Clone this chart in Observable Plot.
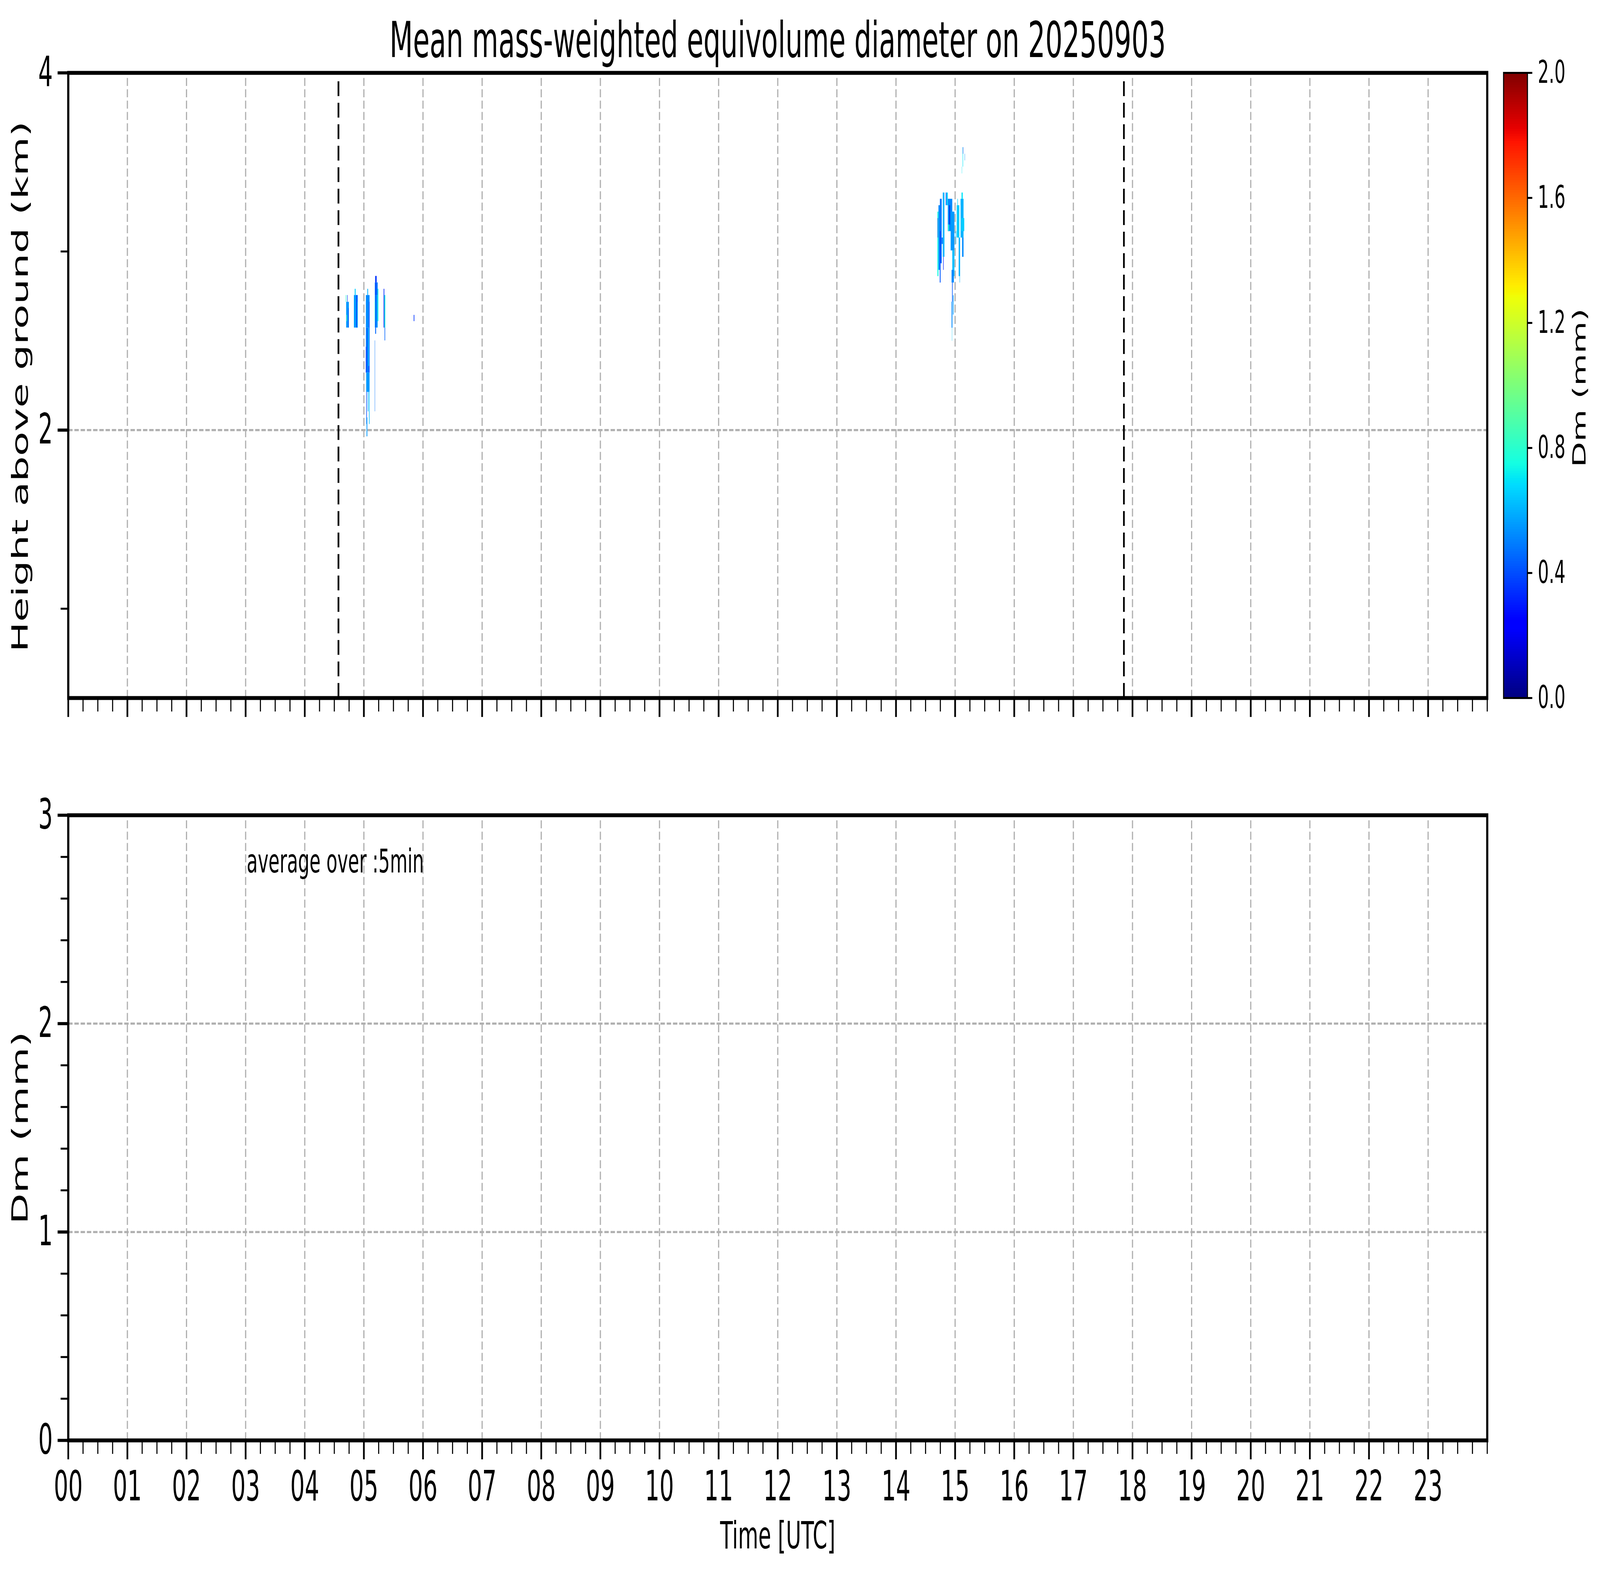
<!DOCTYPE html>
<html><head><meta charset="utf-8">
<script src="https://cdn.jsdelivr.net/npm/d3@7"></script>
<script src="https://cdn.jsdelivr.net/npm/@observablehq/plot@0.6"></script>
<style>
html,body{margin:0;padding:0;background:#fff;overflow:hidden;}
#root{position:absolute;left:0;top:0;width:7442px;height:4031px;overflow:hidden;background:#fff;font-family:"DejaVu Sans";transform-origin:0 0;}
#root svg{position:absolute;}
</style></head><body><div id="root"></div>
<script>
// ---- texts ----
const titleText = "Mean mass-weighted equivolume diameter on 20250903";
const topYLabel = "Height above ground (km)";
const bottomYLabel = "Dm (mm)";
const xLabel = "Time [UTC]";
const colorbarLabel = "Dm (mm)";
const noteText = "average over :5min";

// ---- ticks ----
const hourTicks = [0,1,2,3,4,5,6,7,8,9,10,11,12,13,14,15,16,17,18,19,20,21,22,23];
const hourLabels = ["00","01","02","03","04","05","06","07","08","09","10","11","12","13","14","15","16","17","18","19","20","21","22","23"];
const heightTicks = [2, 4];
const heightMinorTicks = [1, 3];
const dmTicks = [0, 1, 2, 3];
const dmMinorTicks = [0.2,0.4,0.6,0.8,1.2,1.4,1.6,1.8,2.2,2.4,2.6,2.8];
const colorbarTicks = [0, 0.4, 0.8, 1.2, 1.6, 2.0];
const topGridY = [2];
const bottomGridY = [1, 2];
const sunLines = [4.57, 17.855];   // dashed black lines (hours UTC)

// ---- Dm cells (time in hours, height in km, Dm in mm) ----
const cellStart = [4.696,4.702,4.720,4.706,4.736, 4.833,4.847,4.877,4.892,
  5.036,5.060,5.036,5.041,5.043,5.069,5.088,5.047,5.036,5.090,5.078,
  5.187,5.235,5.187,5.193,5.193,5.186,5.200,5.187,
  5.336,5.347,5.352,5.340, 5.844,
  14.702,14.720,14.744,14.742,14.775,14.793,14.800,14.706,14.748,
  14.844,14.878,14.882,14.926,14.954,14.942,14.950,14.966,14.942,14.947,15.011,14.905,14.844,
  15.029,15.062,15.094,15.110,15.102,15.120,15.129,15.134,15.163,15.116,15.040,15.077];
const cellEnd = [4.704,4.748,4.727,4.716,4.742, 4.898,4.862,4.888,4.898,
  5.098,5.073,5.098,5.098,5.053,5.078,5.098,5.060,5.043,5.098,5.090,
  5.235,5.247,5.235,5.218,5.208,5.191,5.206,5.192,
  5.347,5.364,5.362,5.345, 5.855,
  14.720,14.744,14.775,14.756,14.793,14.821,14.808,14.712,14.755,
  14.878,14.954,14.898,14.990,14.990,14.981,14.960,14.976,14.956,14.951,15.019,14.915,14.850,
  15.073,15.086,15.144,15.131,15.156,15.144,15.136,15.138,15.168,15.120,15.048,15.083];
const cellBottom = [2.717,2.573,2.717,2.609,2.573, 2.573,2.755,2.573,2.573,
  2.573,2.755,2.321,2.213,2.033,2.104,2.033,1.964,2.321,2.321,2.358,
  2.573,2.609,2.755,2.826,2.538,2.104,2.573,2.609,
  2.573,2.573,2.501,2.573, 2.609,
  2.861,2.896,2.933,2.825,3.041,2.969,2.896,3.077,2.933,
  3.258,3.113,3.113,3.005,2.861,2.825,2.718,2.646,2.572,2.499,3.041,3.150,3.258,
  3.077,2.861,3.077,3.294,3.113,2.969,3.474,3.546,3.509,3.436,3.258,2.825];
const cellTop = [2.755,2.717,2.755,2.644,2.682, 2.755,2.790,2.755,2.717,
  2.755,2.790,2.573,2.321,2.213,2.213,2.213,2.070,2.465,2.717,2.573,
  2.755,2.790,2.826,2.862,2.573,2.501,2.826,2.717,
  2.790,2.755,2.573,2.755, 2.644,
  3.222,3.258,3.294,2.933,3.077,3.329,2.969,3.186,3.113,
  3.329,3.294,3.150,3.222,3.005,2.896,2.825,2.754,2.718,2.572,3.113,3.258,3.329,
  3.258,3.077,3.294,3.329,3.186,3.077,3.583,3.583,3.546,3.474,3.294,2.861];
const cellDm = [0.80,0.55,0.35,0.82,0.35, 0.55,0.65,0.30,0.75,
  0.52,0.60,0.48,0.55,0.40,0.60,0.62,0.55,0.28,0.35,0.68,
  0.55,0.75,0.48,0.35,0.45,0.48,0.25,0.80,
  0.32,0.75,0.45,0.18, 0.35,
  0.75,0.52,0.48,0.42,0.45,0.60,0.32,0.18,0.22,
  0.65,0.52,0.78,0.55,0.62,0.52,0.42,0.55,0.52,0.65,0.60,0.15,0.18,
  0.65,0.60,0.60,0.70,0.65,0.52,0.70,0.18,0.55,0.70,0.68,0.60];

const cells = cellStart.map((t0, i) => ({t0, t1: cellEnd[i], h0: cellBottom[i], h1: cellTop[i], dm: cellDm[i]}));

// ---- jet colormap ----
function jet(t) {
  t = Math.max(0, Math.min(1, t));
  const seg = pts => {
    for (let i = 1; i < pts.length; i++) {
      if (t <= pts[i][0]) {
        const [x0, y0] = pts[i - 1], [x1, y1] = pts[i];
        return y0 + (y1 - y0) * (t - x0) / (x1 - x0);
      }
    }
    return pts[pts.length - 1][1];
  };
  const r = seg([[0,0],[0.35,0],[0.66,1],[0.89,1],[1,0.5]]);
  const g = seg([[0,0],[0.125,0],[0.375,1],[0.64,1],[0.91,0],[1,0]]);
  const b = seg([[0,0.5],[0.11,1],[0.34,1],[0.65,0],[1,0]]);
  return `rgb(${Math.round(r*255)},${Math.round(g*255)},${Math.round(b*255)})`;
}

const W = 7442, H = 4031, FL = 317, FR = 6917;
const colorScale = {type: "linear", domain: [0, 2], interpolate: jet};
const styleBase = {background: "transparent", fontFamily: "DejaVu Sans", maxWidth: "none", overflow: "visible", color: "black"};
const gridStyle = {stroke: "#b0b0b0", strokeOpacity: 1, strokeWidth: 5.5, strokeDasharray: "20.5,8.5"};
const quarterTicks = d3.range(1, 97).map(i => i / 4).filter(d => d % 1 !== 0 || d === 24);

function xAxes(withLabels) {
  return [
    Plot.axisX({ticks: quarterTicks, tickSize: 35, strokeWidth: 5, tickFormat: () => "", label: null}),
    Plot.axisX({ticks: hourTicks, tickSize: 49, strokeWidth: 8, tickPadding: 29, fontSize: 106,
      tickFormat: withLabels ? (d => hourLabels[d]) : (() => ""), label: null})
  ];
}

const topPlot = Plot.plot({
  width: W, height: 1900, marginLeft: FL, marginRight: W - FR, marginTop: 186, marginBottom: 114,
  x: {domain: [0, 24], label: null},
  y: {domain: [0.5, 4], label: null},
  color: colorScale,
  style: styleBase,
  marks: [
    Plot.ruleX(hourTicks.slice(1), {y1: 0.5, y2: 4, ...gridStyle}),
    Plot.ruleY(topGridY, {x1: 0, x2: 24, ...gridStyle}),
    Plot.rect(cells, {x1: "t0", x2: "t1", y1: "h0", y2: "h1", fill: "dm"}),
    Plot.ruleX(sunLines, {y1: 0.5, y2: 4, stroke: "black", strokeWidth: 8, strokeDasharray: "38,17"}),
    ...xAxes(false),
    Plot.axisY({ticks: heightMinorTicks, tickSize: 35, strokeWidth: 5, tickFormat: () => "", label: null}),
    Plot.axisY({ticks: heightTicks, tickSize: 49, strokeWidth: 8, tickPadding: 23, fontSize: 106, tickFormat: d => String(d), label: null}),
    Plot.frame({stroke: "black", strokeWidth: 10}),
    Plot.text([titleText], {text: d => d, frameAnchor: "top", dy: -41, lineAnchor: "bottom", textAnchor: "middle", fontSize: 126}),
    Plot.text([topYLabel], {text: d => d, frameAnchor: "left", dx: -189, dy: 3, rotate: -90, lineAnchor: "bottom", textAnchor: "middle", fontSize: 103})
  ]
});
topPlot.style.left = "0px"; topPlot.style.top = "0px";

const bottomPlot = Plot.plot({
  width: W, height: 2131, marginLeft: FL, marginRight: W - FR, marginTop: 186, marginBottom: 345,
  x: {domain: [0, 24], label: null},
  y: {domain: [0, 3], label: null},
  style: styleBase,
  marks: [
    Plot.ruleX(hourTicks.slice(1), {y1: 0, y2: 3, ...gridStyle}),
    Plot.ruleY(bottomGridY, {x1: 0, x2: 24, ...gridStyle}),
    Plot.text([noteText], {text: d => d, x: 3, y: 2.726, dx: 5, textAnchor: "start", lineAnchor: "bottom", fontSize: 84}),
    ...xAxes(true),
    Plot.axisY({ticks: dmMinorTicks, tickSize: 35, strokeWidth: 5, tickFormat: () => "", label: null}),
    Plot.axisY({ticks: dmTicks, tickSize: 49, strokeWidth: 8, tickPadding: 23, fontSize: 106, tickFormat: d => String(d), label: null}),
    Plot.frame({stroke: "black", strokeWidth: 10}),
    Plot.text([xLabel], {text: d => d, frameAnchor: "bottom", dy: 276, lineAnchor: "bottom", textAnchor: "middle", fontSize: 97}),
    Plot.text([bottomYLabel], {text: d => d, frameAnchor: "left", dx: -189, rotate: -90, lineAnchor: "bottom", textAnchor: "middle", fontSize: 103})
  ]
});
bottomPlot.style.left = "0px"; bottomPlot.style.top = "1900px";

const cbStep = 2 / 256;
const cbStops = d3.range(0, 256).map(i => i * cbStep);
const cbPlot = Plot.plot({
  width: 502, height: 1900, marginLeft: 53, marginRight: 338, marginTop: 186, marginBottom: 114,
  x: {domain: [0, 1], axis: null},
  y: {domain: [0, 2], label: null, axis: null},
  color: colorScale,
  style: styleBase,
  marks: [
    Plot.rect(cbStops, {x1: 0, x2: 1, y1: d => d, y2: d => Math.min(2, d + cbStep * 1.6), fill: d => d + cbStep / 2}),
    Plot.frame({stroke: "black", strokeWidth: 5}),
    Plot.axisY({anchor: "right", ticks: colorbarTicks, tickFormat: d3.format(".1f"), tickSize: 22, tickPadding: 26, fontSize: 81, strokeWidth: 5, label: null}),
    Plot.text([colorbarLabel], {text: d => d, frameAnchor: "right", dx: 271, dy: 6, rotate: -90, lineAnchor: "bottom", textAnchor: "middle", fontSize: 85})
  ]
});
cbPlot.style.left = "6940px"; cbPlot.style.top = "0px";

const root = document.getElementById("root");
root.appendChild(topPlot);
root.appendChild(bottomPlot);
root.appendChild(cbPlot);

// fit the 7442x4031 design into whatever viewport the browser actually provides
function fit() {
  const sx = (window.innerWidth || W) / W, sy = (window.innerHeight || H) / H;
  root.style.transform = `scale(${sx}, ${sy})`;
}
fit();
window.addEventListener("resize", fit);
</script>
</body></html>
